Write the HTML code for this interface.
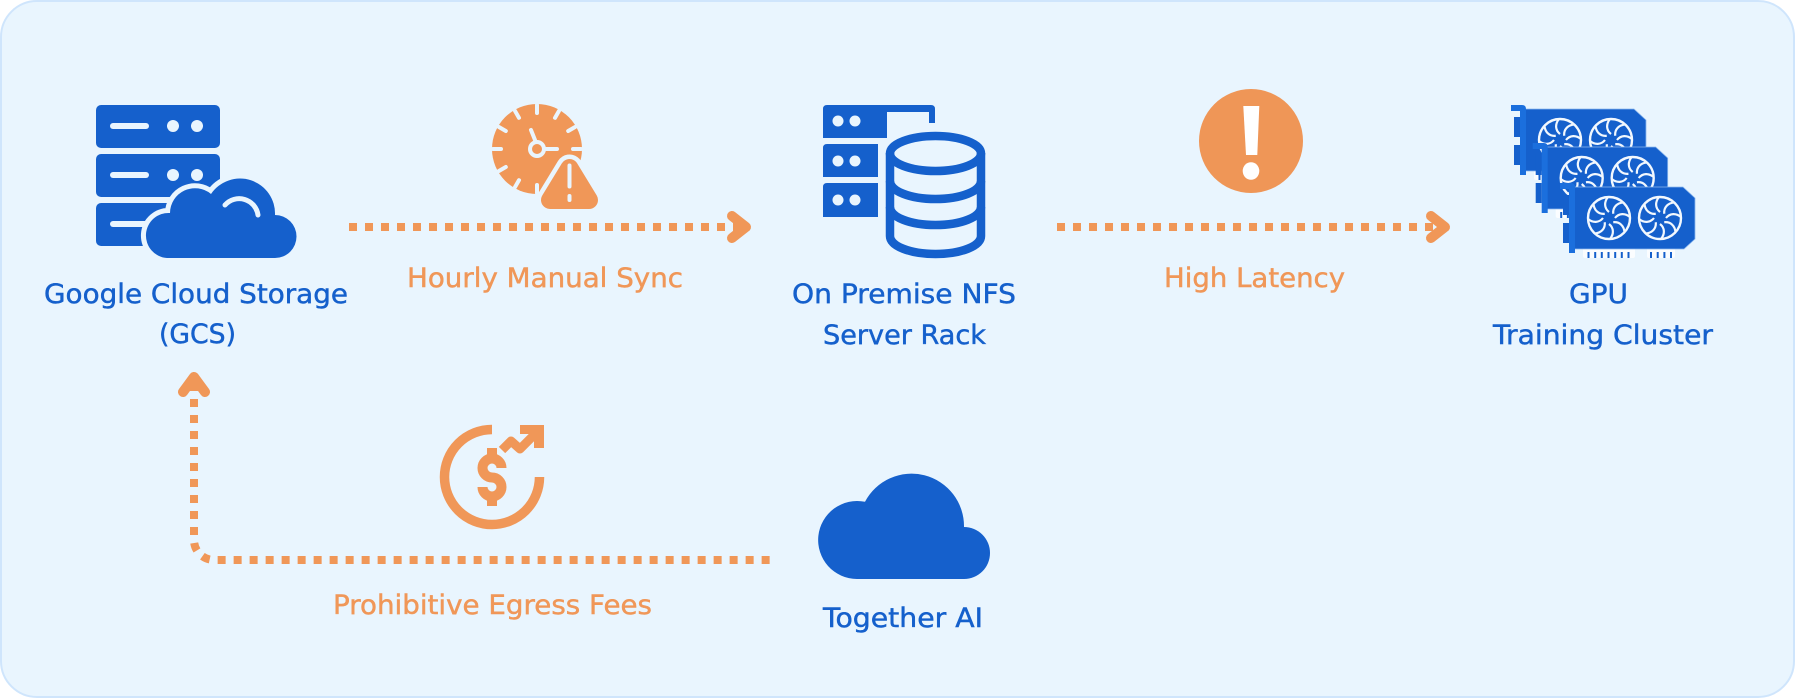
<!DOCTYPE html>
<html lang="en">
<head>
<meta charset="utf-8">
<title>Data pipeline diagram</title>
<style>
html,body{margin:0;padding:0;background:#fff;width:1795px;height:698px;overflow:hidden}
svg{display:block}
text{font-family:"DejaVu Sans","Liberation Sans",sans-serif;font-size:26.5px;stroke-width:.45px}
.b{fill:#1560cc;stroke:#1560cc}
.o{fill:#f09758;stroke:#f09758}
</style>
</head>
<body>
<svg width="1795" height="698" viewBox="0 0 1795 698" xmlns="http://www.w3.org/2000/svg">
<defs>
<g id="fan">
  <circle cx="0" cy="0" r="21" fill="#1560cc" stroke="#f2f8fe" stroke-width="2.4"/>
  <g fill="none" stroke="#f2f8fe" stroke-width="2.2">
    <path d="M0 -6 C-5 -10 -5 -16 -1 -21"/>
    <path d="M0 -6 C-5 -10 -5 -16 -1 -21" transform="rotate(45)"/>
    <path d="M0 -6 C-5 -10 -5 -16 -1 -21" transform="rotate(90)"/>
    <path d="M0 -6 C-5 -10 -5 -16 -1 -21" transform="rotate(135)"/>
    <path d="M0 -6 C-5 -10 -5 -16 -1 -21" transform="rotate(180)"/>
    <path d="M0 -6 C-5 -10 -5 -16 -1 -21" transform="rotate(225)"/>
    <path d="M0 -6 C-5 -10 -5 -16 -1 -21" transform="rotate(270)"/>
    <path d="M0 -6 C-5 -10 -5 -16 -1 -21" transform="rotate(315)"/>
  </g>
  <circle cx="0" cy="0" r="5" fill="#1560cc"/>
</g>
<g id="card">
  <rect x="1583" y="247" width="52" height="11" rx="2" fill="#fbfdff"/>
  <rect x="1647" y="247" width="28" height="11" rx="2" fill="#fbfdff"/>
  <g fill="#1560cc">
    <rect x="1587.5" y="252" width="2" height="6"/><rect x="1594.2" y="252" width="2" height="6"/><rect x="1600.8" y="252" width="2" height="6"/><rect x="1607.5" y="252" width="2" height="6"/><rect x="1614.2" y="252" width="2" height="6"/><rect x="1620.8" y="252" width="2" height="6"/><rect x="1627.5" y="252" width="2" height="6"/>
    <rect x="1650" y="252" width="2" height="6"/><rect x="1656.7" y="252" width="2" height="6"/><rect x="1663.4" y="252" width="2" height="6"/><rect x="1670" y="252" width="2" height="6"/>
  </g>
  <path d="M1574 187H1683L1695 198V239L1684 249H1574Z" fill="#1560cc" stroke="#8db8ee" stroke-width=".8"/>
  <rect x="1563" y="195" width="6" height="20" fill="#1560cc"/>
  <rect x="1563" y="223" width="6" height="20" fill="#1560cc"/>
  <path d="M1560 183H1571Q1575 183 1575 187V253H1569V189H1560Z" fill="#1b6fdd"/>
  <use href="#fan" transform="translate(1609 218)"/>
  <use href="#fan" transform="translate(1660 218)"/>
</g>
</defs>

<rect x="1" y="1" width="1793" height="696" rx="36" ry="36" fill="#e9f5fe" stroke="#cfe5fc" stroke-width="2"/>

<!-- GCS icon -->
<g fill="#1560cc">
  <rect x="96" y="105" width="124" height="43" rx="5"/>
  <rect x="96" y="154" width="124" height="43" rx="5"/>
  <rect x="96" y="203" width="124" height="43" rx="5"/>
</g>
<g fill="#e9f5fe">
  <rect x="110" y="123" width="39" height="6" rx="3"/>
  <rect x="110" y="172" width="39" height="6" rx="3"/>
  <rect x="110" y="221" width="39" height="6" rx="3"/>
  <circle cx="173" cy="126" r="6"/><circle cx="197" cy="126" r="6"/>
  <circle cx="173" cy="175" r="6"/><circle cx="197" cy="175" r="6"/>
</g>
<path d="M167 258A22.5 22.5 0 1 1 170 213A25 25 0 0 1 211 194A35 35 0 0 1 275 215A21.5 21.5 0 0 1 275 258Z" fill="#1560cc" stroke="#e9f5fe" stroke-width="10" paint-order="stroke"/>
<path d="M225 205A19 19 0 0 1 258 215" fill="none" stroke="#e9f5fe" stroke-width="5" stroke-linecap="round"/>

<!-- Clock warning icon -->
<circle cx="537" cy="149" r="45" fill="#f09758"/>
<g stroke="#e9f5fe" stroke-width="4" stroke-linecap="round">
  <path d="M537 105V113"/>
  <path d="M537 105V113" transform="rotate(30 537 149)"/>
  <path d="M537 105V113" transform="rotate(60 537 149)"/>
  <path d="M537 105V113" transform="rotate(90 537 149)"/>
  <path d="M537 105V113" transform="rotate(180 537 149)"/>
  <path d="M537 105V113" transform="rotate(210 537 149)"/>
  <path d="M537 105V113" transform="rotate(240 537 149)"/>
  <path d="M537 105V113" transform="rotate(270 537 149)"/>
  <path d="M537 105V113" transform="rotate(300 537 149)"/>
  <path d="M537 105V113" transform="rotate(330 537 149)"/>
  <path d="M535 140L531 130M546 149H557"/>
</g>
<circle cx="537" cy="149" r="7" fill="#f09758" stroke="#e9f5fe" stroke-width="4"/>
<path d="M569.5 168L550 200H589Z" fill="#e9f5fe" stroke="#e9f5fe" stroke-width="27" stroke-linejoin="round"/>
<path d="M569.5 168L550 200H589Z" fill="#f09758" stroke="#f09758" stroke-width="18" stroke-linejoin="round"/>
<path d="M569.5 165.5V186.5M569.5 196V200" stroke="#e9f5fe" stroke-width="4" stroke-linecap="round" fill="none"/>

<!-- Rack + DB icon -->
<path d="M827 105H931Q935 105 935 109V123H929V112H887V138H823V109Q823 105 827 105Z" fill="#1560cc"/>
<path d="M823 148Q823 144 827 144H878V177H823Z" fill="#1560cc"/>
<path d="M823 187Q823 183 827 183H878V217H823Z" fill="#1560cc"/>
<g fill="#e9f5fe">
  <circle cx="838" cy="121" r="5.5"/><circle cx="855" cy="121" r="5.5"/>
  <circle cx="838" cy="161" r="5.5"/><circle cx="855" cy="161" r="5.5"/>
  <circle cx="838" cy="200" r="5.5"/><circle cx="855" cy="200" r="5.5"/>
</g>
<ellipse cx="935.5" cy="153.5" rx="45.5" ry="17.5" fill="none" stroke="#e9f5fe" stroke-width="18"/>
<g fill="none" stroke="#1560cc" stroke-width="8.5">
  <ellipse cx="935.5" cy="153.5" rx="45.5" ry="17.5"/>
  <path d="M890 153V236C890 246 910 254 935.5 254S981 246 981 236V153"/>
  <path d="M890 181C890 191 910 199 935.5 199S981 191 981 181"/>
  <path d="M890 207C890 217 910 225 935.5 225S981 217 981 207"/>
</g>

<!-- Alert icon -->
<circle cx="1251" cy="141" r="52" fill="#ef9657"/>
<path d="M1243.3 106H1259.3L1257.3 155H1246Z" fill="#fff"/>
<ellipse cx="1251" cy="171" rx="8.3" ry="8.8" fill="#fff"/>

<!-- GPU icon -->
<use href="#card" transform="translate(-49 -78)"/>
<use href="#card" transform="translate(-27.3 -40)"/>
<use href="#card"/>

<!-- Money icon -->
<g fill="none" stroke="#f09758">
  <path d="M492 429.5A47.5 47.5 0 1 0 539.5 477" stroke-width="9.5"/>
  <path d="M501.5 468A9.5 9.5 0 1 0 492 477.5A9.5 9.5 0 1 1 482.5 487" stroke-width="10"/>
  <path d="M492 448V458M492 496V506" stroke-width="10"/>
  <path d="M502 450L511 441L520 449L539 430" stroke-width="9" stroke-linejoin="round"/>
</g>
<path d="M520 425H544V448H534V434H520Z" fill="#f09758"/>

<!-- Together cloud -->
<path d="M857 579A39 39 0 1 1 865 501.8A52.5 52.5 0 0 1 964 527A26 26 0 0 1 964 579Z" fill="#1560cc"/>

<!-- Connectors -->
<g fill="none" stroke="#f09758" stroke-width="8" stroke-dasharray="8 8">
  <path d="M349 227H748"/>
  <path d="M1057 227H1447"/>
  <path d="M194 383V540A20 20 0 0 0 214 560H770"/>
</g>
<g fill="none" stroke="#f09758" stroke-width="10" stroke-linecap="round" stroke-linejoin="round">
  <path d="M732 216L746 227L732 238"/>
  <path d="M1431 216L1445 227L1431 238"/>
  <path d="M183 392L194 377L205 392"/>
</g>

<!-- Labels -->
<text class="b" x="44" y="303" textLength="304" lengthAdjust="spacingAndGlyphs">Google Cloud Storage</text>
<text class="b" x="159" y="343" textLength="77" lengthAdjust="spacingAndGlyphs">(GCS)</text>
<text class="o" x="407" y="287" textLength="276" lengthAdjust="spacingAndGlyphs">Hourly Manual Sync</text>
<text class="b" x="792" y="303" textLength="224" lengthAdjust="spacingAndGlyphs">On Premise NFS</text>
<text class="b" x="823" y="344" textLength="163" lengthAdjust="spacingAndGlyphs">Server Rack</text>
<text class="o" x="1164" y="287" textLength="181" lengthAdjust="spacingAndGlyphs">High Latency</text>
<text class="b" x="1569" y="303" textLength="59" lengthAdjust="spacingAndGlyphs">GPU</text>
<text class="b" x="1493" y="344" textLength="220" lengthAdjust="spacingAndGlyphs">Training Cluster</text>
<text class="o" x="333" y="614" textLength="319" lengthAdjust="spacingAndGlyphs">Prohibitive Egress Fees</text>
<text class="b" x="823" y="627" textLength="160" lengthAdjust="spacingAndGlyphs">Together AI</text>
</svg>
</body>
</html>
